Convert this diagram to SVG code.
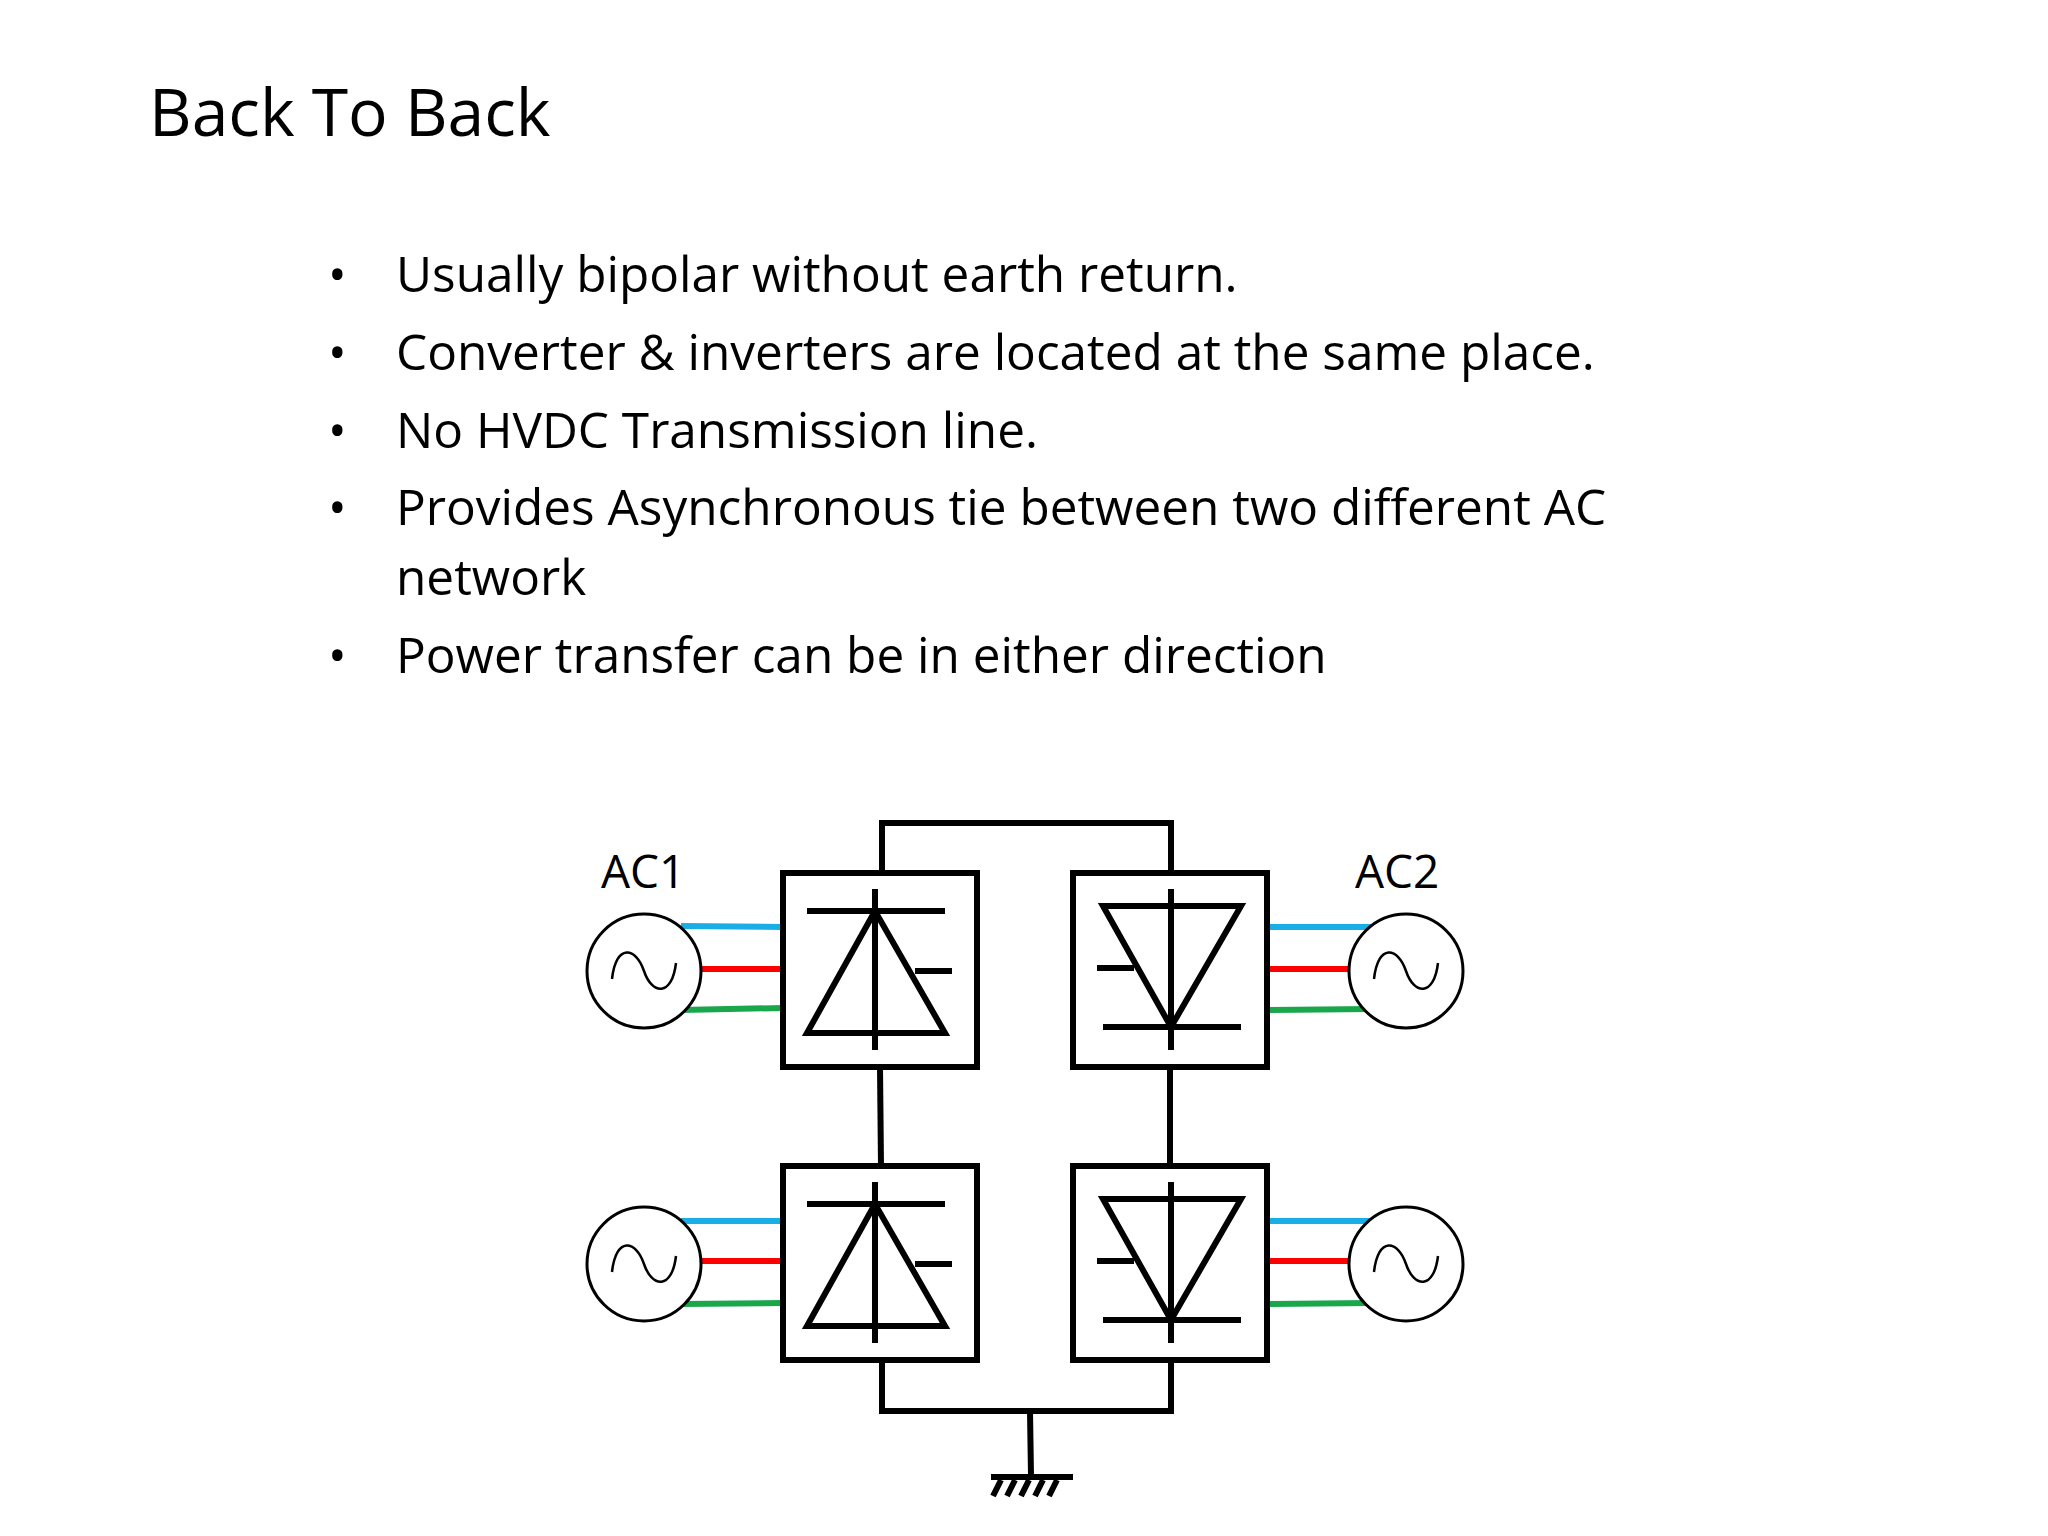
<svg xmlns="http://www.w3.org/2000/svg" width="2048" height="1536" viewBox="0 0 2048 1536">
<style>
.t{font-family:"Open Sans","Liberation Sans",sans-serif;fill:#000}
.k{stroke:#000;stroke-width:6;fill:none;stroke-linejoin:miter}
.c{stroke:#000;stroke-width:3;fill:#fff}
.b{stroke:#1aaee6;stroke-width:6}.r{stroke:#f00;stroke-width:6}.g{stroke:#1aa64a;stroke-width:6}
</style>
<defs>
<g id="rect">
<rect x="0" y="0" width="194" height="194" class="k" fill="#fff"/>
<line x1="92" y1="16" x2="92" y2="177" class="k"/>
<line x1="24" y1="38" x2="162" y2="38" class="k"/>
<polygon points="92,38 24,160 162,160" class="k"/>
<line x1="132" y1="98" x2="169" y2="98" class="k"/>
</g>
<g id="inv">
<rect x="0" y="0" width="194" height="194" class="k" fill="#fff"/>
<line x1="98" y1="16" x2="98" y2="177" class="k"/>
<polygon points="30,33 168,33 98,154" class="k"/>
<line x1="30" y1="154" x2="168" y2="154" class="k"/>
<line x1="24" y1="95" x2="61" y2="95" class="k"/>
</g>
<g id="src">
<circle cx="0" cy="0" r="57" class="c"/>
<path d="M-32,8 C-28,-28 -8,-24 0,0 S28,26 32,-8" fill="none" stroke="#000" stroke-width="2.5"/>
</g>
</defs>
<text x="149" y="136" class="t" font-size="66">Back To Back</text>
<g class="t" font-size="49.5">
<text x="328" y="292">•</text><text x="396" y="292">Usually bipolar without earth return.</text>
<text x="328" y="370">•</text><text x="396" y="370">Converter &amp; inverters are located at the same place.</text>
<text x="328" y="448">•</text><text x="396" y="448">No HVDC Transmission line.</text>
<text x="328" y="525">•</text><text x="396" y="525">Provides Asynchronous tie between two different AC</text>
<text x="396" y="595">network</text>
<text x="328" y="673">•</text><text x="396" y="673">Power transfer can be in either direction</text>
</g>
<g transform="translate(-9,-8)">
<g id="connectors">
<polyline points="891,881 891,831 1180,831 1180,881" class="k"/>
<line x1="889" y1="1075" x2="890" y2="1174" class="k"/>
<line x1="1179" y1="1075" x2="1179" y2="1174" class="k"/>
<polyline points="891,1368 891,1419 1180,1419 1180,1368" class="k"/>
<line x1="1039" y1="1419" x2="1040" y2="1484" class="k"/>
<line x1="1000" y1="1485" x2="1082" y2="1485" class="k"/>
<path d="M1010,1488 l-8,16 M1024,1488 l-8,16 M1038,1488 l-8,16 M1052,1488 l-8,16 M1066,1488 l-8,16" class="k" stroke-width="4.5"/>
<line x1="690" y1="934" x2="792" y2="935" class="b"/><line x1="710" y1="977" x2="792" y2="977" class="r"/><line x1="690" y1="1018" x2="792" y2="1016" class="g"/>
<line x1="690" y1="1229" x2="792" y2="1229" class="b"/><line x1="710" y1="1269" x2="792" y2="1269" class="r"/><line x1="690" y1="1312" x2="792" y2="1311" class="g"/>
<line x1="1276" y1="935" x2="1380" y2="935" class="b"/><line x1="1276" y1="977" x2="1360" y2="977" class="r"/><line x1="1276" y1="1018" x2="1380" y2="1017" class="g"/>
<line x1="1276" y1="1229" x2="1380" y2="1229" class="b"/><line x1="1276" y1="1269" x2="1360" y2="1269" class="r"/><line x1="1276" y1="1312" x2="1380" y2="1311" class="g"/>
</g>
<g id="ac1"><use href="#src" x="653" y="979"/><text x="610" y="896" class="t" font-size="46" font-family="DejaVu Sans">AC1</text></g>
<g id="ac2"><use href="#src" x="1415" y="979"/><text x="1364" y="896" class="t" font-size="46" font-family="DejaVu Sans">AC2</text></g>
<g id="ac3"><use href="#src" x="653" y="1272"/></g>
<g id="ac4"><use href="#src" x="1415" y="1272"/></g>
<g id="rect1"><use href="#rect" x="792" y="881"/></g>
<g id="inv1"><use href="#inv" x="1082" y="881"/></g>
<g id="rect2"><use href="#rect" x="792" y="1174"/></g>
<g id="inv2"><use href="#inv" x="1082" y="1174"/></g>
</g>
</svg>
